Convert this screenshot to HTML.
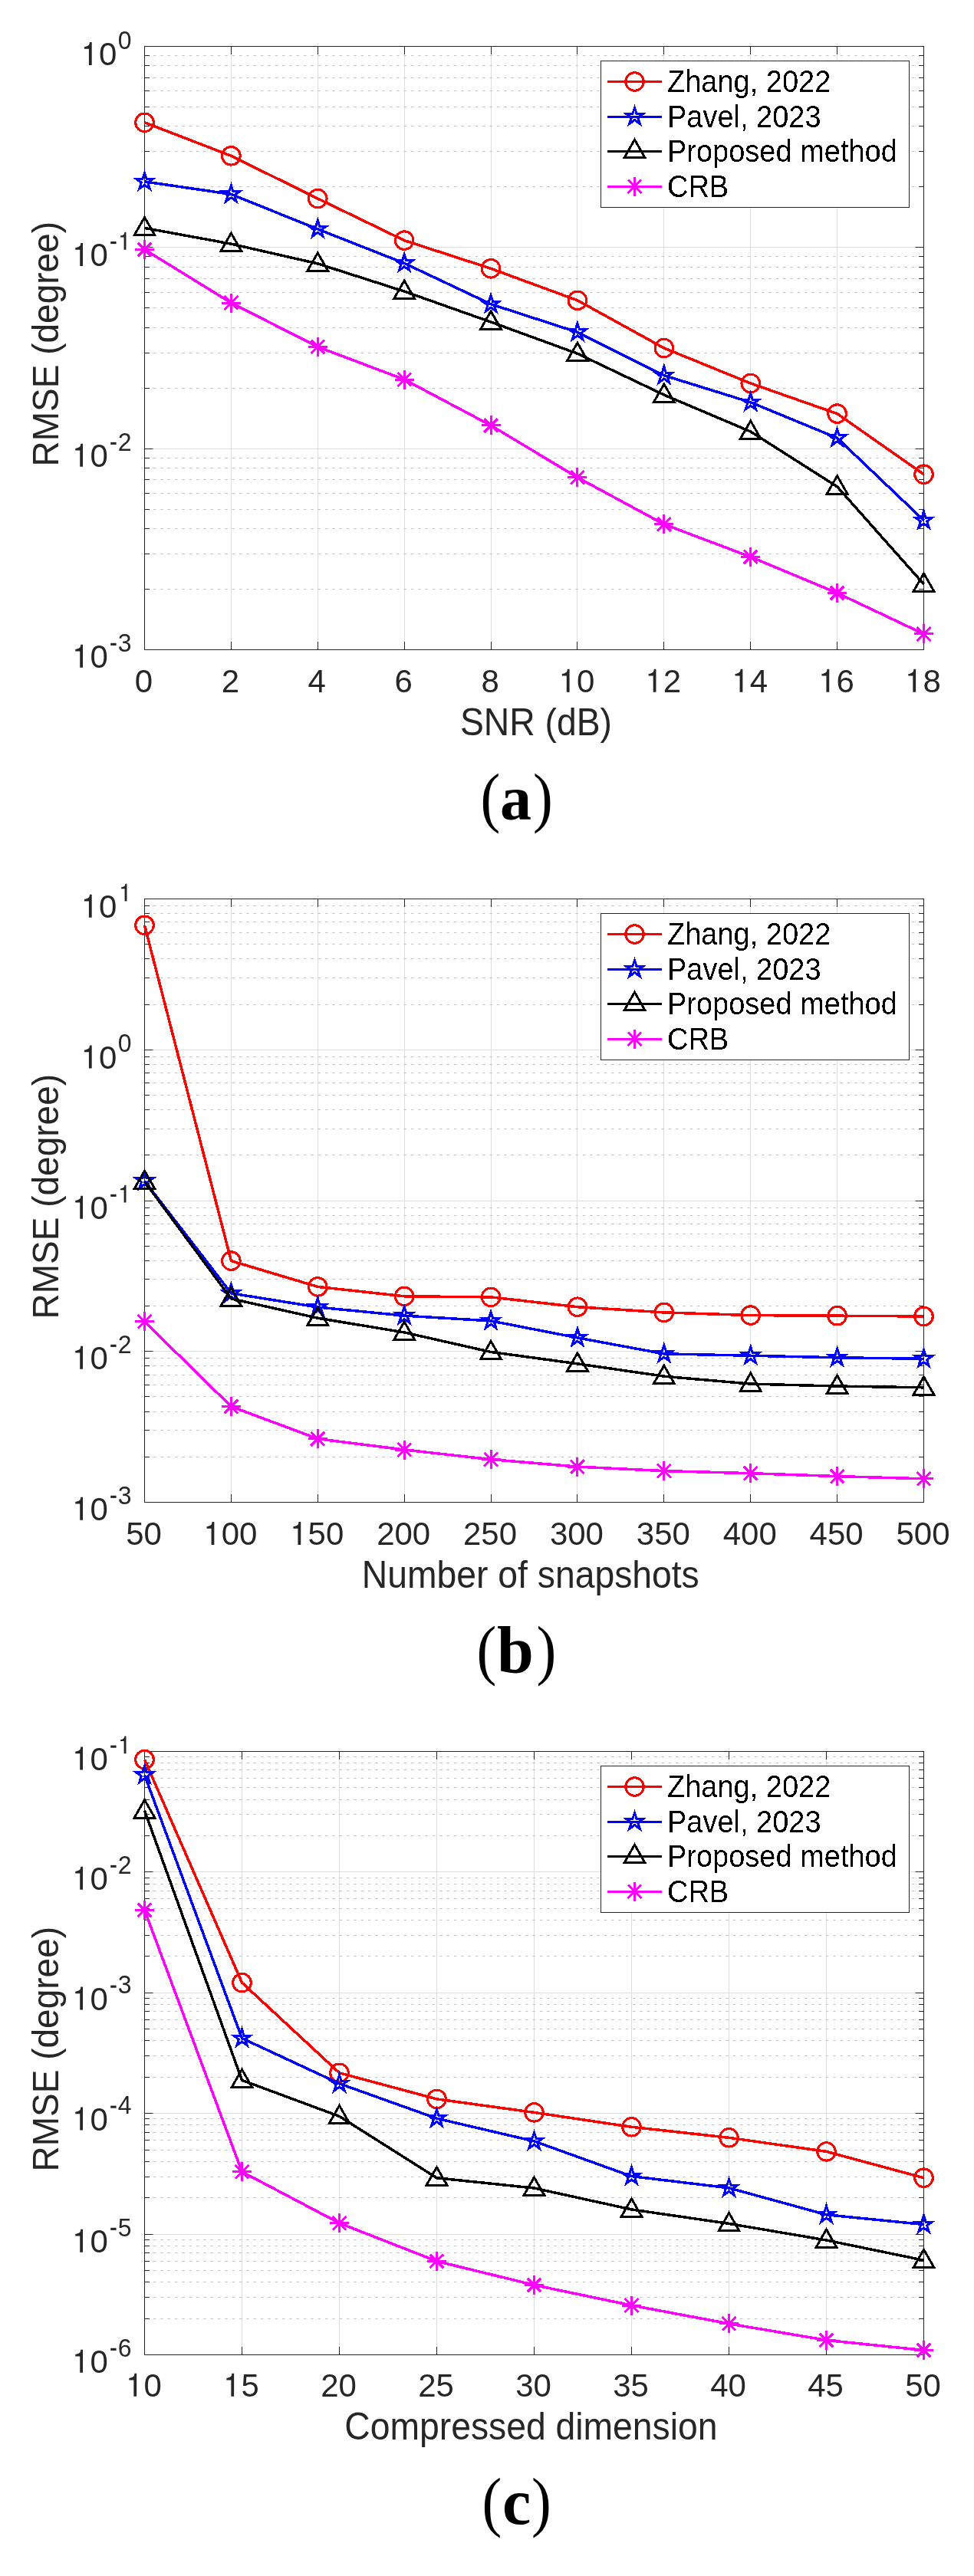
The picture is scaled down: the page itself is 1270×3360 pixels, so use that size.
<!DOCTYPE html><html><head><meta charset="utf-8"><style>html,body{margin:0;padding:0;background:#fff}svg{display:block;will-change:transform}text{font-family:"Liberation Sans",sans-serif}</style></head><body>
<svg width="1270" height="3360" viewBox="0 0 1270 3360">
<style>.d{shape-rendering:crispEdges}</style><defs><filter id="bw" x="0" y="0" width="1" height="1"><feComponentTransfer><feFuncA type="discrete" tableValues="0 1"/></feComponentTransfer></filter></defs>
<rect width="1270" height="3360" fill="#fff"/>
<g>
<line x1="301.5" y1="60.5" x2="301.5" y2="847.5" stroke="#dedede" stroke-width="1"/>
<line x1="414.5" y1="60.5" x2="414.5" y2="847.5" stroke="#dedede" stroke-width="1"/>
<line x1="527.5" y1="60.5" x2="527.5" y2="847.5" stroke="#dedede" stroke-width="1"/>
<line x1="640.5" y1="60.5" x2="640.5" y2="847.5" stroke="#dedede" stroke-width="1"/>
<line x1="752.5" y1="60.5" x2="752.5" y2="847.5" stroke="#dedede" stroke-width="1"/>
<line x1="865.5" y1="60.5" x2="865.5" y2="847.5" stroke="#dedede" stroke-width="1"/>
<line x1="978.5" y1="60.5" x2="978.5" y2="847.5" stroke="#dedede" stroke-width="1"/>
<line x1="1091.5" y1="60.5" x2="1091.5" y2="847.5" stroke="#dedede" stroke-width="1"/>
<line x1="188.5" y1="243.5" x2="1204.5" y2="243.5" stroke="#c2c2c2" stroke-width="1" stroke-dasharray="3.33 6" stroke-dashoffset="-2.17"/>
<line x1="188.5" y1="197.5" x2="1204.5" y2="197.5" stroke="#c2c2c2" stroke-width="1" stroke-dasharray="3.33 6" stroke-dashoffset="-2.17"/>
<line x1="188.5" y1="164.5" x2="1204.5" y2="164.5" stroke="#c2c2c2" stroke-width="1" stroke-dasharray="3.33 6" stroke-dashoffset="-2.17"/>
<line x1="188.5" y1="139.5" x2="1204.5" y2="139.5" stroke="#c2c2c2" stroke-width="1" stroke-dasharray="3.33 6" stroke-dashoffset="-2.17"/>
<line x1="188.5" y1="118.5" x2="1204.5" y2="118.5" stroke="#c2c2c2" stroke-width="1" stroke-dasharray="3.33 6" stroke-dashoffset="-2.17"/>
<line x1="188.5" y1="101.5" x2="1204.5" y2="101.5" stroke="#c2c2c2" stroke-width="1" stroke-dasharray="3.33 6" stroke-dashoffset="-2.17"/>
<line x1="188.5" y1="85.5" x2="1204.5" y2="85.5" stroke="#c2c2c2" stroke-width="1" stroke-dasharray="3.33 6" stroke-dashoffset="-2.17"/>
<line x1="188.5" y1="72.5" x2="1204.5" y2="72.5" stroke="#c2c2c2" stroke-width="1" stroke-dasharray="3.33 6" stroke-dashoffset="-2.17"/>
<line x1="188.5" y1="506.5" x2="1204.5" y2="506.5" stroke="#c2c2c2" stroke-width="1" stroke-dasharray="3.33 6" stroke-dashoffset="-2.17"/>
<line x1="188.5" y1="460.5" x2="1204.5" y2="460.5" stroke="#c2c2c2" stroke-width="1" stroke-dasharray="3.33 6" stroke-dashoffset="-2.17"/>
<line x1="188.5" y1="427.5" x2="1204.5" y2="427.5" stroke="#c2c2c2" stroke-width="1" stroke-dasharray="3.33 6" stroke-dashoffset="-2.17"/>
<line x1="188.5" y1="401.5" x2="1204.5" y2="401.5" stroke="#c2c2c2" stroke-width="1" stroke-dasharray="3.33 6" stroke-dashoffset="-2.17"/>
<line x1="188.5" y1="381.5" x2="1204.5" y2="381.5" stroke="#c2c2c2" stroke-width="1" stroke-dasharray="3.33 6" stroke-dashoffset="-2.17"/>
<line x1="188.5" y1="363.5" x2="1204.5" y2="363.5" stroke="#c2c2c2" stroke-width="1" stroke-dasharray="3.33 6" stroke-dashoffset="-2.17"/>
<line x1="188.5" y1="348.5" x2="1204.5" y2="348.5" stroke="#c2c2c2" stroke-width="1" stroke-dasharray="3.33 6" stroke-dashoffset="-2.17"/>
<line x1="188.5" y1="334.5" x2="1204.5" y2="334.5" stroke="#c2c2c2" stroke-width="1" stroke-dasharray="3.33 6" stroke-dashoffset="-2.17"/>
<line x1="188.5" y1="768.5" x2="1204.5" y2="768.5" stroke="#c2c2c2" stroke-width="1" stroke-dasharray="3.33 6" stroke-dashoffset="-2.17"/>
<line x1="188.5" y1="722.5" x2="1204.5" y2="722.5" stroke="#c2c2c2" stroke-width="1" stroke-dasharray="3.33 6" stroke-dashoffset="-2.17"/>
<line x1="188.5" y1="689.5" x2="1204.5" y2="689.5" stroke="#c2c2c2" stroke-width="1" stroke-dasharray="3.33 6" stroke-dashoffset="-2.17"/>
<line x1="188.5" y1="664.5" x2="1204.5" y2="664.5" stroke="#c2c2c2" stroke-width="1" stroke-dasharray="3.33 6" stroke-dashoffset="-2.17"/>
<line x1="188.5" y1="643.5" x2="1204.5" y2="643.5" stroke="#c2c2c2" stroke-width="1" stroke-dasharray="3.33 6" stroke-dashoffset="-2.17"/>
<line x1="188.5" y1="625.5" x2="1204.5" y2="625.5" stroke="#c2c2c2" stroke-width="1" stroke-dasharray="3.33 6" stroke-dashoffset="-2.17"/>
<line x1="188.5" y1="610.5" x2="1204.5" y2="610.5" stroke="#c2c2c2" stroke-width="1" stroke-dasharray="3.33 6" stroke-dashoffset="-2.17"/>
<line x1="188.5" y1="597.5" x2="1204.5" y2="597.5" stroke="#c2c2c2" stroke-width="1" stroke-dasharray="3.33 6" stroke-dashoffset="-2.17"/>
<line x1="188.5" y1="322.5" x2="1204.5" y2="322.5" stroke="#dedede" stroke-width="1"/>
<line x1="188.5" y1="585.5" x2="1204.5" y2="585.5" stroke="#dedede" stroke-width="1"/>
<path d="M188.5 847.5v-10.5M188.5 60.5v10.5M301.5 847.5v-10.5M301.5 60.5v10.5M414.5 847.5v-10.5M414.5 60.5v10.5M527.5 847.5v-10.5M527.5 60.5v10.5M640.5 847.5v-10.5M640.5 60.5v10.5M752.5 847.5v-10.5M752.5 60.5v10.5M865.5 847.5v-10.5M865.5 60.5v10.5M978.5 847.5v-10.5M978.5 60.5v10.5M1091.5 847.5v-10.5M1091.5 60.5v10.5M1204.5 847.5v-10.5M1204.5 60.5v10.5M188.5 60.5h11M1204.5 60.5h-11M188.5 322.5h11M1204.5 322.5h-11M188.5 585.5h11M1204.5 585.5h-11M188.5 847.5h11M1204.5 847.5h-11M188.5 243.5h6.5M1204.5 243.5h-6.5M188.5 197.5h6.5M1204.5 197.5h-6.5M188.5 164.5h6.5M1204.5 164.5h-6.5M188.5 139.5h6.5M1204.5 139.5h-6.5M188.5 118.5h6.5M1204.5 118.5h-6.5M188.5 101.5h6.5M1204.5 101.5h-6.5M188.5 85.5h6.5M1204.5 85.5h-6.5M188.5 72.5h6.5M1204.5 72.5h-6.5M188.5 506.5h6.5M1204.5 506.5h-6.5M188.5 460.5h6.5M1204.5 460.5h-6.5M188.5 427.5h6.5M1204.5 427.5h-6.5M188.5 401.5h6.5M1204.5 401.5h-6.5M188.5 381.5h6.5M1204.5 381.5h-6.5M188.5 363.5h6.5M1204.5 363.5h-6.5M188.5 348.5h6.5M1204.5 348.5h-6.5M188.5 334.5h6.5M1204.5 334.5h-6.5M188.5 768.5h6.5M1204.5 768.5h-6.5M188.5 722.5h6.5M1204.5 722.5h-6.5M188.5 689.5h6.5M1204.5 689.5h-6.5M188.5 664.5h6.5M1204.5 664.5h-6.5M188.5 643.5h6.5M1204.5 643.5h-6.5M188.5 625.5h6.5M1204.5 625.5h-6.5M188.5 610.5h6.5M1204.5 610.5h-6.5M188.5 597.5h6.5M1204.5 597.5h-6.5" stroke="#262626" stroke-width="1" fill="none"/>
<rect x="188.5" y="60.5" width="1016" height="787" fill="none" stroke="#262626" stroke-width="1"/>
<g class="d">
<polyline points="188.5,159.8 301.39,203.3 414.28,259 527.17,313.6 640.06,350.3 752.94,391.8 865.83,454 978.72,500 1091.61,539.6 1204.5,618.7" fill="none" stroke="#ff0000" stroke-width="3.5" stroke-linejoin="round"/>
<circle cx="188.5" cy="159.8" r="11.8" fill="none" stroke="#ff0000" stroke-width="3"/>
<circle cx="301.39" cy="203.3" r="11.8" fill="none" stroke="#ff0000" stroke-width="3"/>
<circle cx="414.28" cy="259" r="11.8" fill="none" stroke="#ff0000" stroke-width="3"/>
<circle cx="527.17" cy="313.6" r="11.8" fill="none" stroke="#ff0000" stroke-width="3"/>
<circle cx="640.06" cy="350.3" r="11.8" fill="none" stroke="#ff0000" stroke-width="3"/>
<circle cx="752.94" cy="391.8" r="11.8" fill="none" stroke="#ff0000" stroke-width="3"/>
<circle cx="865.83" cy="454" r="11.8" fill="none" stroke="#ff0000" stroke-width="3"/>
<circle cx="978.72" cy="500" r="11.8" fill="none" stroke="#ff0000" stroke-width="3"/>
<circle cx="1091.61" cy="539.6" r="11.8" fill="none" stroke="#ff0000" stroke-width="3"/>
<circle cx="1204.5" cy="618.7" r="11.8" fill="none" stroke="#ff0000" stroke-width="3"/>
<polyline points="188.5,236.85 301.39,253.35 414.28,298.9 527.17,343.35 640.06,396.7 752.94,433.35 865.83,489.7 978.72,524.75 1091.61,571.3 1204.5,678.7" fill="none" stroke="#0000ff" stroke-width="3.5" stroke-linejoin="round"/>
<polygon points="188.5,225.35 191.08,233.3 199.44,233.3 192.68,238.21 195.26,246.15 188.5,241.24 181.74,246.15 184.32,238.21 177.56,233.3 185.92,233.3" fill="none" stroke="#0000ff" stroke-width="3" stroke-linejoin="miter" stroke-miterlimit="10"/>
<polygon points="301.39,241.85 303.97,249.8 312.33,249.8 305.57,254.71 308.15,262.65 301.39,257.74 294.63,262.65 297.21,254.71 290.45,249.8 298.81,249.8" fill="none" stroke="#0000ff" stroke-width="3" stroke-linejoin="miter" stroke-miterlimit="10"/>
<polygon points="414.28,287.4 416.86,295.35 425.21,295.35 418.46,300.26 421.04,308.2 414.28,303.29 407.52,308.2 410.1,300.26 403.34,295.35 411.7,295.35" fill="none" stroke="#0000ff" stroke-width="3" stroke-linejoin="miter" stroke-miterlimit="10"/>
<polygon points="527.17,331.85 529.75,339.8 538.1,339.8 531.34,344.71 533.93,352.65 527.17,347.74 520.41,352.65 522.99,344.71 516.23,339.8 524.58,339.8" fill="none" stroke="#0000ff" stroke-width="3" stroke-linejoin="miter" stroke-miterlimit="10"/>
<polygon points="640.06,385.2 642.64,393.15 650.99,393.15 644.23,398.06 646.82,406 640.06,401.09 633.3,406 635.88,398.06 629.12,393.15 637.47,393.15" fill="none" stroke="#0000ff" stroke-width="3" stroke-linejoin="miter" stroke-miterlimit="10"/>
<polygon points="752.94,421.85 755.53,429.8 763.88,429.8 757.12,434.71 759.7,442.65 752.94,437.74 746.18,442.65 748.77,434.71 742.01,429.8 750.36,429.8" fill="none" stroke="#0000ff" stroke-width="3" stroke-linejoin="miter" stroke-miterlimit="10"/>
<polygon points="865.83,478.2 868.42,486.15 876.77,486.15 870.01,491.06 872.59,499 865.83,494.09 859.07,499 861.66,491.06 854.9,486.15 863.25,486.15" fill="none" stroke="#0000ff" stroke-width="3" stroke-linejoin="miter" stroke-miterlimit="10"/>
<polygon points="978.72,513.25 981.3,521.2 989.66,521.2 982.9,526.11 985.48,534.05 978.72,529.14 971.96,534.05 974.54,526.11 967.79,521.2 976.14,521.2" fill="none" stroke="#0000ff" stroke-width="3" stroke-linejoin="miter" stroke-miterlimit="10"/>
<polygon points="1091.61,559.8 1094.19,567.75 1102.55,567.75 1095.79,572.66 1098.37,580.6 1091.61,575.69 1084.85,580.6 1087.43,572.66 1080.67,567.75 1089.03,567.75" fill="none" stroke="#0000ff" stroke-width="3" stroke-linejoin="miter" stroke-miterlimit="10"/>
<polygon points="1204.5,667.2 1207.08,675.15 1215.44,675.15 1208.68,680.06 1211.26,688 1204.5,683.09 1197.74,688 1200.32,680.06 1193.56,675.15 1201.92,675.15" fill="none" stroke="#0000ff" stroke-width="3" stroke-linejoin="miter" stroke-miterlimit="10"/>
<polyline points="188.5,297.4 301.39,318.1 414.28,343.9 527.17,380.1 640.06,420 752.94,461.2 865.83,515.05 978.72,562.95 1091.61,634.8 1204.5,761.95" fill="none" stroke="#000000" stroke-width="3.5" stroke-linejoin="round"/>
<polygon points="188.5,283.4 201.9,306.8 175.1,306.8" fill="none" stroke="#000000" stroke-width="3" stroke-linejoin="miter" stroke-miterlimit="10"/>
<polygon points="301.39,304.1 314.79,327.5 287.99,327.5" fill="none" stroke="#000000" stroke-width="3" stroke-linejoin="miter" stroke-miterlimit="10"/>
<polygon points="414.28,329.9 427.68,353.3 400.88,353.3" fill="none" stroke="#000000" stroke-width="3" stroke-linejoin="miter" stroke-miterlimit="10"/>
<polygon points="527.17,366.1 540.57,389.5 513.77,389.5" fill="none" stroke="#000000" stroke-width="3" stroke-linejoin="miter" stroke-miterlimit="10"/>
<polygon points="640.06,406 653.46,429.4 626.66,429.4" fill="none" stroke="#000000" stroke-width="3" stroke-linejoin="miter" stroke-miterlimit="10"/>
<polygon points="752.94,447.2 766.34,470.6 739.54,470.6" fill="none" stroke="#000000" stroke-width="3" stroke-linejoin="miter" stroke-miterlimit="10"/>
<polygon points="865.83,501.05 879.23,524.45 852.43,524.45" fill="none" stroke="#000000" stroke-width="3" stroke-linejoin="miter" stroke-miterlimit="10"/>
<polygon points="978.72,548.95 992.12,572.35 965.32,572.35" fill="none" stroke="#000000" stroke-width="3" stroke-linejoin="miter" stroke-miterlimit="10"/>
<polygon points="1091.61,620.8 1105.01,644.2 1078.21,644.2" fill="none" stroke="#000000" stroke-width="3" stroke-linejoin="miter" stroke-miterlimit="10"/>
<polygon points="1204.5,747.95 1217.9,771.35 1191.1,771.35" fill="none" stroke="#000000" stroke-width="3" stroke-linejoin="miter" stroke-miterlimit="10"/>
<polyline points="188.5,325.5 301.39,395 414.28,452.4 527.17,495 640.06,554.9 752.94,622.8 865.83,683.8 978.72,726.4 1091.61,773.5 1204.5,826.95" fill="none" stroke="#ff00ff" stroke-width="3.5" stroke-linejoin="round"/>
<path d="M188.5 313V338M176 325.5H201M179.7 316.7L197.3 334.3M179.7 334.3L197.3 316.7" stroke="#ff00ff" stroke-width="3" fill="none"/>
<path d="M301.39 382.5V407.5M288.89 395H313.89M292.59 386.2L310.19 403.8M292.59 403.8L310.19 386.2" stroke="#ff00ff" stroke-width="3" fill="none"/>
<path d="M414.28 439.9V464.9M401.78 452.4H426.78M405.48 443.6L423.08 461.2M405.48 461.2L423.08 443.6" stroke="#ff00ff" stroke-width="3" fill="none"/>
<path d="M527.17 482.5V507.5M514.67 495H539.67M518.37 486.2L535.97 503.8M518.37 503.8L535.97 486.2" stroke="#ff00ff" stroke-width="3" fill="none"/>
<path d="M640.06 542.4V567.4M627.56 554.9H652.56M631.26 546.1L648.86 563.7M631.26 563.7L648.86 546.1" stroke="#ff00ff" stroke-width="3" fill="none"/>
<path d="M752.94 610.3V635.3M740.44 622.8H765.44M744.14 614L761.74 631.6M744.14 631.6L761.74 614" stroke="#ff00ff" stroke-width="3" fill="none"/>
<path d="M865.83 671.3V696.3M853.33 683.8H878.33M857.03 675L874.63 692.6M857.03 692.6L874.63 675" stroke="#ff00ff" stroke-width="3" fill="none"/>
<path d="M978.72 713.9V738.9M966.22 726.4H991.22M969.92 717.6L987.52 735.2M969.92 735.2L987.52 717.6" stroke="#ff00ff" stroke-width="3" fill="none"/>
<path d="M1091.61 761V786M1079.11 773.5H1104.11M1082.81 764.7L1100.41 782.3M1082.81 782.3L1100.41 764.7" stroke="#ff00ff" stroke-width="3" fill="none"/>
<path d="M1204.5 814.45V839.45M1192 826.95H1217M1195.7 818.15L1213.3 835.75M1195.7 835.75L1213.3 818.15" stroke="#ff00ff" stroke-width="3" fill="none"/>
</g>
<rect x="783.5" y="79.5" width="402" height="191" fill="#fff" stroke="#262626" stroke-width="1"/>
<g class="d">
<line x1="792" y1="106.5" x2="863" y2="106.5" stroke="#ff0000" stroke-width="3"/>
<circle cx="827.5" cy="106.5" r="11.8" fill="none" stroke="#ff0000" stroke-width="3"/>
<line x1="792" y1="152.1" x2="863" y2="152.1" stroke="#0000ff" stroke-width="3"/>
<polygon points="827.5,140.6 830.08,148.55 838.44,148.55 831.68,153.46 834.26,161.4 827.5,156.49 820.74,161.4 823.32,153.46 816.56,148.55 824.92,148.55" fill="none" stroke="#0000ff" stroke-width="3" stroke-linejoin="miter" stroke-miterlimit="10"/>
<line x1="792" y1="197.7" x2="863" y2="197.7" stroke="#000000" stroke-width="3"/>
<polygon points="827.5,182.2 840.9,205.6 814.1,205.6" fill="none" stroke="#000000" stroke-width="3" stroke-linejoin="miter" stroke-miterlimit="10"/>
<line x1="792" y1="243.3" x2="863" y2="243.3" stroke="#ff00ff" stroke-width="3"/>
<path d="M827.5 230.8V255.8M815 243.3H840M818.7 234.5L836.3 252.1M818.7 252.1L836.3 234.5" stroke="#ff00ff" stroke-width="3" fill="none"/>
</g><g filter="url(#bw)">
<text transform="translate(870,120.1) scale(1,1.06)" font-size="38" fill="#000">Zhang, 2022</text>
<text transform="translate(870,165.7) scale(1,1.06)" font-size="38" fill="#000">Pavel, 2023</text>
<text transform="translate(870,211.3) scale(1,1.06)" font-size="38" fill="#000">Proposed method</text>
<text transform="translate(870,256.9) scale(1,1.06)" font-size="38" fill="#000">CRB</text>
</g>
<text transform="translate(175.82,902.8) scale(1,1.025)" font-size="42" fill="#262626">0</text>
<text transform="translate(288.71,902.8) scale(1,1.025)" font-size="42" fill="#262626">2</text>
<text transform="translate(401.6,902.8) scale(1,1.025)" font-size="42" fill="#262626">4</text>
<text transform="translate(514.49,902.8) scale(1,1.025)" font-size="42" fill="#262626">6</text>
<text transform="translate(627.38,902.8) scale(1,1.025)" font-size="42" fill="#262626">8</text>
<path transform="translate(728.59,902.8) scale(0.02051,-0.02051)" d="M498 0L682 0L682 1463L547 1463Q545 1330 500 1280Q420 1205 300 1178L205 1158L205 1036L498 1036Z" fill="#262626"/>
<text transform="translate(751.94,902.8) scale(1,1.025)" font-size="42" fill="#262626">0</text>
<path transform="translate(841.47,902.8) scale(0.02051,-0.02051)" d="M498 0L682 0L682 1463L547 1463Q545 1330 500 1280Q420 1205 300 1178L205 1158L205 1036L498 1036Z" fill="#262626"/>
<text transform="translate(864.83,902.8) scale(1,1.025)" font-size="42" fill="#262626">2</text>
<path transform="translate(954.36,902.8) scale(0.02051,-0.02051)" d="M498 0L682 0L682 1463L547 1463Q545 1330 500 1280Q420 1205 300 1178L205 1158L205 1036L498 1036Z" fill="#262626"/>
<text transform="translate(977.72,902.8) scale(1,1.025)" font-size="42" fill="#262626">4</text>
<path transform="translate(1067.25,902.8) scale(0.02051,-0.02051)" d="M498 0L682 0L682 1463L547 1463Q545 1330 500 1280Q420 1205 300 1178L205 1158L205 1036L498 1036Z" fill="#262626"/>
<text transform="translate(1090.61,902.8) scale(1,1.025)" font-size="42" fill="#262626">6</text>
<path transform="translate(1180.14,902.8) scale(0.02051,-0.02051)" d="M498 0L682 0L682 1463L547 1463Q545 1330 500 1280Q420 1205 300 1178L205 1158L205 1036L498 1036Z" fill="#262626"/>
<text transform="translate(1203.5,902.8) scale(1,1.025)" font-size="42" fill="#262626">8</text>
<text transform="translate(153.8,63.7) scale(1,1.025)" font-size="32" fill="#262626">0</text>
<path transform="translate(105.69,84.9) scale(0.02051,-0.02051)" d="M498 0L682 0L682 1463L547 1463Q545 1330 500 1280Q420 1205 300 1178L205 1158L205 1036L498 1036Z" fill="#262626"/>
<text transform="translate(129.04,84.9) scale(1,1.025)" font-size="42" fill="#262626">0</text>
<rect x="144.2" y="315.01" width="7.39" height="3.1" fill="#262626"/>
<path transform="translate(153.8,325.7) scale(0.01562,-0.01562)" d="M498 0L682 0L682 1463L547 1463Q545 1330 500 1280Q420 1205 300 1178L205 1158L205 1036L498 1036Z" fill="#262626"/>
<path transform="translate(94.03,346.9) scale(0.02051,-0.02051)" d="M498 0L682 0L682 1463L547 1463Q545 1330 500 1280Q420 1205 300 1178L205 1158L205 1036L498 1036Z" fill="#262626"/>
<text transform="translate(117.39,346.9) scale(1,1.025)" font-size="42" fill="#262626">0</text>
<rect x="144.2" y="576.81" width="7.39" height="3.1" fill="#262626"/>
<text transform="translate(153.8,587.5) scale(1,1.025)" font-size="32" fill="#262626">2</text>
<path transform="translate(94.03,608.7) scale(0.02051,-0.02051)" d="M498 0L682 0L682 1463L547 1463Q545 1330 500 1280Q420 1205 300 1178L205 1158L205 1036L498 1036Z" fill="#262626"/>
<text transform="translate(117.39,608.7) scale(1,1.025)" font-size="42" fill="#262626">0</text>
<rect x="144.2" y="838.81" width="7.39" height="3.1" fill="#262626"/>
<text transform="translate(153.8,849.5) scale(1,1.025)" font-size="32" fill="#262626">3</text>
<path transform="translate(94.03,870.7) scale(0.02051,-0.02051)" d="M498 0L682 0L682 1463L547 1463Q545 1330 500 1280Q420 1205 300 1178L205 1158L205 1036L498 1036Z" fill="#262626"/>
<text transform="translate(117.39,870.7) scale(1,1.025)" font-size="42" fill="#262626">0</text>
<text transform="translate(698.95,958.9) scale(1,1.06)" font-size="46.3" fill="#262626" text-anchor="middle">SNR (dB)</text>
<text transform="translate(76,448.7) rotate(-90) scale(1,1.06)" font-size="46" fill="#262626" text-anchor="middle">RMSE (degree)</text>
<g font-size="86" fill="#000"><text transform="translate(626.6,1068.7) scale(0.9,1)" style="font-family:'Liberation Serif',serif">(</text><text x="652.06" y="1068.7" font-weight="bold" font-size="82" style="font-family:'Liberation Serif',serif">a</text><text transform="translate(694.9,1068.7) scale(0.9,1)" style="font-family:'Liberation Serif',serif">)</text></g>
</g>
<g>
<line x1="301.5" y1="1172.5" x2="301.5" y2="1959.5" stroke="#dedede" stroke-width="1"/>
<line x1="414.5" y1="1172.5" x2="414.5" y2="1959.5" stroke="#dedede" stroke-width="1"/>
<line x1="527.5" y1="1172.5" x2="527.5" y2="1959.5" stroke="#dedede" stroke-width="1"/>
<line x1="640.5" y1="1172.5" x2="640.5" y2="1959.5" stroke="#dedede" stroke-width="1"/>
<line x1="752.5" y1="1172.5" x2="752.5" y2="1959.5" stroke="#dedede" stroke-width="1"/>
<line x1="865.5" y1="1172.5" x2="865.5" y2="1959.5" stroke="#dedede" stroke-width="1"/>
<line x1="978.5" y1="1172.5" x2="978.5" y2="1959.5" stroke="#dedede" stroke-width="1"/>
<line x1="1091.5" y1="1172.5" x2="1091.5" y2="1959.5" stroke="#dedede" stroke-width="1"/>
<line x1="188.5" y1="1310.5" x2="1204.5" y2="1310.5" stroke="#c2c2c2" stroke-width="1" stroke-dasharray="3.33 6" stroke-dashoffset="-2.17"/>
<line x1="188.5" y1="1275.5" x2="1204.5" y2="1275.5" stroke="#c2c2c2" stroke-width="1" stroke-dasharray="3.33 6" stroke-dashoffset="-2.17"/>
<line x1="188.5" y1="1250.5" x2="1204.5" y2="1250.5" stroke="#c2c2c2" stroke-width="1" stroke-dasharray="3.33 6" stroke-dashoffset="-2.17"/>
<line x1="188.5" y1="1231.5" x2="1204.5" y2="1231.5" stroke="#c2c2c2" stroke-width="1" stroke-dasharray="3.33 6" stroke-dashoffset="-2.17"/>
<line x1="188.5" y1="1216.5" x2="1204.5" y2="1216.5" stroke="#c2c2c2" stroke-width="1" stroke-dasharray="3.33 6" stroke-dashoffset="-2.17"/>
<line x1="188.5" y1="1202.5" x2="1204.5" y2="1202.5" stroke="#c2c2c2" stroke-width="1" stroke-dasharray="3.33 6" stroke-dashoffset="-2.17"/>
<line x1="188.5" y1="1191.5" x2="1204.5" y2="1191.5" stroke="#c2c2c2" stroke-width="1" stroke-dasharray="3.33 6" stroke-dashoffset="-2.17"/>
<line x1="188.5" y1="1181.5" x2="1204.5" y2="1181.5" stroke="#c2c2c2" stroke-width="1" stroke-dasharray="3.33 6" stroke-dashoffset="-2.17"/>
<line x1="188.5" y1="1506.5" x2="1204.5" y2="1506.5" stroke="#c2c2c2" stroke-width="1" stroke-dasharray="3.33 6" stroke-dashoffset="-2.17"/>
<line x1="188.5" y1="1472.5" x2="1204.5" y2="1472.5" stroke="#c2c2c2" stroke-width="1" stroke-dasharray="3.33 6" stroke-dashoffset="-2.17"/>
<line x1="188.5" y1="1447.5" x2="1204.5" y2="1447.5" stroke="#c2c2c2" stroke-width="1" stroke-dasharray="3.33 6" stroke-dashoffset="-2.17"/>
<line x1="188.5" y1="1428.5" x2="1204.5" y2="1428.5" stroke="#c2c2c2" stroke-width="1" stroke-dasharray="3.33 6" stroke-dashoffset="-2.17"/>
<line x1="188.5" y1="1412.5" x2="1204.5" y2="1412.5" stroke="#c2c2c2" stroke-width="1" stroke-dasharray="3.33 6" stroke-dashoffset="-2.17"/>
<line x1="188.5" y1="1399.5" x2="1204.5" y2="1399.5" stroke="#c2c2c2" stroke-width="1" stroke-dasharray="3.33 6" stroke-dashoffset="-2.17"/>
<line x1="188.5" y1="1388.5" x2="1204.5" y2="1388.5" stroke="#c2c2c2" stroke-width="1" stroke-dasharray="3.33 6" stroke-dashoffset="-2.17"/>
<line x1="188.5" y1="1378.5" x2="1204.5" y2="1378.5" stroke="#c2c2c2" stroke-width="1" stroke-dasharray="3.33 6" stroke-dashoffset="-2.17"/>
<line x1="188.5" y1="1703.5" x2="1204.5" y2="1703.5" stroke="#c2c2c2" stroke-width="1" stroke-dasharray="3.33 6" stroke-dashoffset="-2.17"/>
<line x1="188.5" y1="1668.5" x2="1204.5" y2="1668.5" stroke="#c2c2c2" stroke-width="1" stroke-dasharray="3.33 6" stroke-dashoffset="-2.17"/>
<line x1="188.5" y1="1644.5" x2="1204.5" y2="1644.5" stroke="#c2c2c2" stroke-width="1" stroke-dasharray="3.33 6" stroke-dashoffset="-2.17"/>
<line x1="188.5" y1="1625.5" x2="1204.5" y2="1625.5" stroke="#c2c2c2" stroke-width="1" stroke-dasharray="3.33 6" stroke-dashoffset="-2.17"/>
<line x1="188.5" y1="1609.5" x2="1204.5" y2="1609.5" stroke="#c2c2c2" stroke-width="1" stroke-dasharray="3.33 6" stroke-dashoffset="-2.17"/>
<line x1="188.5" y1="1596.5" x2="1204.5" y2="1596.5" stroke="#c2c2c2" stroke-width="1" stroke-dasharray="3.33 6" stroke-dashoffset="-2.17"/>
<line x1="188.5" y1="1585.5" x2="1204.5" y2="1585.5" stroke="#c2c2c2" stroke-width="1" stroke-dasharray="3.33 6" stroke-dashoffset="-2.17"/>
<line x1="188.5" y1="1575.5" x2="1204.5" y2="1575.5" stroke="#c2c2c2" stroke-width="1" stroke-dasharray="3.33 6" stroke-dashoffset="-2.17"/>
<line x1="188.5" y1="1900.5" x2="1204.5" y2="1900.5" stroke="#c2c2c2" stroke-width="1" stroke-dasharray="3.33 6" stroke-dashoffset="-2.17"/>
<line x1="188.5" y1="1865.5" x2="1204.5" y2="1865.5" stroke="#c2c2c2" stroke-width="1" stroke-dasharray="3.33 6" stroke-dashoffset="-2.17"/>
<line x1="188.5" y1="1841.5" x2="1204.5" y2="1841.5" stroke="#c2c2c2" stroke-width="1" stroke-dasharray="3.33 6" stroke-dashoffset="-2.17"/>
<line x1="188.5" y1="1821.5" x2="1204.5" y2="1821.5" stroke="#c2c2c2" stroke-width="1" stroke-dasharray="3.33 6" stroke-dashoffset="-2.17"/>
<line x1="188.5" y1="1806.5" x2="1204.5" y2="1806.5" stroke="#c2c2c2" stroke-width="1" stroke-dasharray="3.33 6" stroke-dashoffset="-2.17"/>
<line x1="188.5" y1="1793.5" x2="1204.5" y2="1793.5" stroke="#c2c2c2" stroke-width="1" stroke-dasharray="3.33 6" stroke-dashoffset="-2.17"/>
<line x1="188.5" y1="1781.5" x2="1204.5" y2="1781.5" stroke="#c2c2c2" stroke-width="1" stroke-dasharray="3.33 6" stroke-dashoffset="-2.17"/>
<line x1="188.5" y1="1771.5" x2="1204.5" y2="1771.5" stroke="#c2c2c2" stroke-width="1" stroke-dasharray="3.33 6" stroke-dashoffset="-2.17"/>
<line x1="188.5" y1="1369.5" x2="1204.5" y2="1369.5" stroke="#dedede" stroke-width="1"/>
<line x1="188.5" y1="1566.5" x2="1204.5" y2="1566.5" stroke="#dedede" stroke-width="1"/>
<line x1="188.5" y1="1762.5" x2="1204.5" y2="1762.5" stroke="#dedede" stroke-width="1"/>
<path d="M188.5 1959.5v-10.5M188.5 1172.5v10.5M301.5 1959.5v-10.5M301.5 1172.5v10.5M414.5 1959.5v-10.5M414.5 1172.5v10.5M527.5 1959.5v-10.5M527.5 1172.5v10.5M640.5 1959.5v-10.5M640.5 1172.5v10.5M752.5 1959.5v-10.5M752.5 1172.5v10.5M865.5 1959.5v-10.5M865.5 1172.5v10.5M978.5 1959.5v-10.5M978.5 1172.5v10.5M1091.5 1959.5v-10.5M1091.5 1172.5v10.5M1204.5 1959.5v-10.5M1204.5 1172.5v10.5M188.5 1172.5h11M1204.5 1172.5h-11M188.5 1369.5h11M1204.5 1369.5h-11M188.5 1566.5h11M1204.5 1566.5h-11M188.5 1762.5h11M1204.5 1762.5h-11M188.5 1959.5h11M1204.5 1959.5h-11M188.5 1310.5h6.5M1204.5 1310.5h-6.5M188.5 1275.5h6.5M1204.5 1275.5h-6.5M188.5 1250.5h6.5M1204.5 1250.5h-6.5M188.5 1231.5h6.5M1204.5 1231.5h-6.5M188.5 1216.5h6.5M1204.5 1216.5h-6.5M188.5 1202.5h6.5M1204.5 1202.5h-6.5M188.5 1191.5h6.5M1204.5 1191.5h-6.5M188.5 1181.5h6.5M1204.5 1181.5h-6.5M188.5 1506.5h6.5M1204.5 1506.5h-6.5M188.5 1472.5h6.5M1204.5 1472.5h-6.5M188.5 1447.5h6.5M1204.5 1447.5h-6.5M188.5 1428.5h6.5M1204.5 1428.5h-6.5M188.5 1412.5h6.5M1204.5 1412.5h-6.5M188.5 1399.5h6.5M1204.5 1399.5h-6.5M188.5 1388.5h6.5M1204.5 1388.5h-6.5M188.5 1378.5h6.5M1204.5 1378.5h-6.5M188.5 1703.5h6.5M1204.5 1703.5h-6.5M188.5 1668.5h6.5M1204.5 1668.5h-6.5M188.5 1644.5h6.5M1204.5 1644.5h-6.5M188.5 1625.5h6.5M1204.5 1625.5h-6.5M188.5 1609.5h6.5M1204.5 1609.5h-6.5M188.5 1596.5h6.5M1204.5 1596.5h-6.5M188.5 1585.5h6.5M1204.5 1585.5h-6.5M188.5 1575.5h6.5M1204.5 1575.5h-6.5M188.5 1900.5h6.5M1204.5 1900.5h-6.5M188.5 1865.5h6.5M1204.5 1865.5h-6.5M188.5 1841.5h6.5M1204.5 1841.5h-6.5M188.5 1821.5h6.5M1204.5 1821.5h-6.5M188.5 1806.5h6.5M1204.5 1806.5h-6.5M188.5 1793.5h6.5M1204.5 1793.5h-6.5M188.5 1781.5h6.5M1204.5 1781.5h-6.5M188.5 1771.5h6.5M1204.5 1771.5h-6.5" stroke="#262626" stroke-width="1" fill="none"/>
<rect x="188.5" y="1172.5" width="1016" height="787" fill="none" stroke="#262626" stroke-width="1"/>
<g class="d">
<polyline points="188.5,1206.8 301.39,1644.6 414.28,1678.4 527.17,1690.8 640.06,1691.9 752.94,1704.7 865.83,1711.9 978.72,1715.6 1091.61,1716.2 1204.5,1717" fill="none" stroke="#ff0000" stroke-width="3.5" stroke-linejoin="round"/>
<circle cx="188.5" cy="1206.8" r="11.8" fill="none" stroke="#ff0000" stroke-width="3"/>
<circle cx="301.39" cy="1644.6" r="11.8" fill="none" stroke="#ff0000" stroke-width="3"/>
<circle cx="414.28" cy="1678.4" r="11.8" fill="none" stroke="#ff0000" stroke-width="3"/>
<circle cx="527.17" cy="1690.8" r="11.8" fill="none" stroke="#ff0000" stroke-width="3"/>
<circle cx="640.06" cy="1691.9" r="11.8" fill="none" stroke="#ff0000" stroke-width="3"/>
<circle cx="752.94" cy="1704.7" r="11.8" fill="none" stroke="#ff0000" stroke-width="3"/>
<circle cx="865.83" cy="1711.9" r="11.8" fill="none" stroke="#ff0000" stroke-width="3"/>
<circle cx="978.72" cy="1715.6" r="11.8" fill="none" stroke="#ff0000" stroke-width="3"/>
<circle cx="1091.61" cy="1716.2" r="11.8" fill="none" stroke="#ff0000" stroke-width="3"/>
<circle cx="1204.5" cy="1717" r="11.8" fill="none" stroke="#ff0000" stroke-width="3"/>
<polyline points="188.5,1540.5 301.39,1686.9 414.28,1705 527.17,1716.1 640.06,1722.9 752.94,1744.9 865.83,1765.85 978.72,1768.25 1091.61,1770.8 1204.5,1772.3" fill="none" stroke="#0000ff" stroke-width="3.5" stroke-linejoin="round"/>
<polygon points="188.5,1529 191.08,1536.95 199.44,1536.95 192.68,1541.86 195.26,1549.8 188.5,1544.89 181.74,1549.8 184.32,1541.86 177.56,1536.95 185.92,1536.95" fill="none" stroke="#0000ff" stroke-width="3" stroke-linejoin="miter" stroke-miterlimit="10"/>
<polygon points="301.39,1675.4 303.97,1683.35 312.33,1683.35 305.57,1688.26 308.15,1696.2 301.39,1691.29 294.63,1696.2 297.21,1688.26 290.45,1683.35 298.81,1683.35" fill="none" stroke="#0000ff" stroke-width="3" stroke-linejoin="miter" stroke-miterlimit="10"/>
<polygon points="414.28,1693.5 416.86,1701.45 425.21,1701.45 418.46,1706.36 421.04,1714.3 414.28,1709.39 407.52,1714.3 410.1,1706.36 403.34,1701.45 411.7,1701.45" fill="none" stroke="#0000ff" stroke-width="3" stroke-linejoin="miter" stroke-miterlimit="10"/>
<polygon points="527.17,1704.6 529.75,1712.55 538.1,1712.55 531.34,1717.46 533.93,1725.4 527.17,1720.49 520.41,1725.4 522.99,1717.46 516.23,1712.55 524.58,1712.55" fill="none" stroke="#0000ff" stroke-width="3" stroke-linejoin="miter" stroke-miterlimit="10"/>
<polygon points="640.06,1711.4 642.64,1719.35 650.99,1719.35 644.23,1724.26 646.82,1732.2 640.06,1727.29 633.3,1732.2 635.88,1724.26 629.12,1719.35 637.47,1719.35" fill="none" stroke="#0000ff" stroke-width="3" stroke-linejoin="miter" stroke-miterlimit="10"/>
<polygon points="752.94,1733.4 755.53,1741.35 763.88,1741.35 757.12,1746.26 759.7,1754.2 752.94,1749.29 746.18,1754.2 748.77,1746.26 742.01,1741.35 750.36,1741.35" fill="none" stroke="#0000ff" stroke-width="3" stroke-linejoin="miter" stroke-miterlimit="10"/>
<polygon points="865.83,1754.35 868.42,1762.3 876.77,1762.3 870.01,1767.21 872.59,1775.15 865.83,1770.24 859.07,1775.15 861.66,1767.21 854.9,1762.3 863.25,1762.3" fill="none" stroke="#0000ff" stroke-width="3" stroke-linejoin="miter" stroke-miterlimit="10"/>
<polygon points="978.72,1756.75 981.3,1764.7 989.66,1764.7 982.9,1769.61 985.48,1777.55 978.72,1772.64 971.96,1777.55 974.54,1769.61 967.79,1764.7 976.14,1764.7" fill="none" stroke="#0000ff" stroke-width="3" stroke-linejoin="miter" stroke-miterlimit="10"/>
<polygon points="1091.61,1759.3 1094.19,1767.25 1102.55,1767.25 1095.79,1772.16 1098.37,1780.1 1091.61,1775.19 1084.85,1780.1 1087.43,1772.16 1080.67,1767.25 1089.03,1767.25" fill="none" stroke="#0000ff" stroke-width="3" stroke-linejoin="miter" stroke-miterlimit="10"/>
<polygon points="1204.5,1760.8 1207.08,1768.75 1215.44,1768.75 1208.68,1773.66 1211.26,1781.6 1204.5,1776.69 1197.74,1781.6 1200.32,1773.66 1193.56,1768.75 1201.92,1768.75" fill="none" stroke="#0000ff" stroke-width="3" stroke-linejoin="miter" stroke-miterlimit="10"/>
<polyline points="188.5,1541.25 301.39,1693.9 414.28,1719.25 527.17,1737.95 640.06,1763.45 752.94,1778.8 865.83,1795.2 978.72,1805.1 1091.61,1808.05 1204.5,1809.8" fill="none" stroke="#000000" stroke-width="3.5" stroke-linejoin="round"/>
<polygon points="188.5,1527.25 201.9,1550.65 175.1,1550.65" fill="none" stroke="#000000" stroke-width="3" stroke-linejoin="miter" stroke-miterlimit="10"/>
<polygon points="301.39,1679.9 314.79,1703.3 287.99,1703.3" fill="none" stroke="#000000" stroke-width="3" stroke-linejoin="miter" stroke-miterlimit="10"/>
<polygon points="414.28,1705.25 427.68,1728.65 400.88,1728.65" fill="none" stroke="#000000" stroke-width="3" stroke-linejoin="miter" stroke-miterlimit="10"/>
<polygon points="527.17,1723.95 540.57,1747.35 513.77,1747.35" fill="none" stroke="#000000" stroke-width="3" stroke-linejoin="miter" stroke-miterlimit="10"/>
<polygon points="640.06,1749.45 653.46,1772.85 626.66,1772.85" fill="none" stroke="#000000" stroke-width="3" stroke-linejoin="miter" stroke-miterlimit="10"/>
<polygon points="752.94,1764.8 766.34,1788.2 739.54,1788.2" fill="none" stroke="#000000" stroke-width="3" stroke-linejoin="miter" stroke-miterlimit="10"/>
<polygon points="865.83,1781.2 879.23,1804.6 852.43,1804.6" fill="none" stroke="#000000" stroke-width="3" stroke-linejoin="miter" stroke-miterlimit="10"/>
<polygon points="978.72,1791.1 992.12,1814.5 965.32,1814.5" fill="none" stroke="#000000" stroke-width="3" stroke-linejoin="miter" stroke-miterlimit="10"/>
<polygon points="1091.61,1794.05 1105.01,1817.45 1078.21,1817.45" fill="none" stroke="#000000" stroke-width="3" stroke-linejoin="miter" stroke-miterlimit="10"/>
<polygon points="1204.5,1795.8 1217.9,1819.2 1191.1,1819.2" fill="none" stroke="#000000" stroke-width="3" stroke-linejoin="miter" stroke-miterlimit="10"/>
<polyline points="188.5,1723.8 301.39,1834.55 414.28,1876.7 527.17,1891 640.06,1903.6 752.94,1913.1 865.83,1918.6 978.72,1921.7 1091.61,1925.6 1204.5,1928.8" fill="none" stroke="#ff00ff" stroke-width="3.5" stroke-linejoin="round"/>
<path d="M188.5 1711.3V1736.3M176 1723.8H201M179.7 1715L197.3 1732.6M179.7 1732.6L197.3 1715" stroke="#ff00ff" stroke-width="3" fill="none"/>
<path d="M301.39 1822.05V1847.05M288.89 1834.55H313.89M292.59 1825.75L310.19 1843.35M292.59 1843.35L310.19 1825.75" stroke="#ff00ff" stroke-width="3" fill="none"/>
<path d="M414.28 1864.2V1889.2M401.78 1876.7H426.78M405.48 1867.9L423.08 1885.5M405.48 1885.5L423.08 1867.9" stroke="#ff00ff" stroke-width="3" fill="none"/>
<path d="M527.17 1878.5V1903.5M514.67 1891H539.67M518.37 1882.2L535.97 1899.8M518.37 1899.8L535.97 1882.2" stroke="#ff00ff" stroke-width="3" fill="none"/>
<path d="M640.06 1891.1V1916.1M627.56 1903.6H652.56M631.26 1894.8L648.86 1912.4M631.26 1912.4L648.86 1894.8" stroke="#ff00ff" stroke-width="3" fill="none"/>
<path d="M752.94 1900.6V1925.6M740.44 1913.1H765.44M744.14 1904.3L761.74 1921.9M744.14 1921.9L761.74 1904.3" stroke="#ff00ff" stroke-width="3" fill="none"/>
<path d="M865.83 1906.1V1931.1M853.33 1918.6H878.33M857.03 1909.8L874.63 1927.4M857.03 1927.4L874.63 1909.8" stroke="#ff00ff" stroke-width="3" fill="none"/>
<path d="M978.72 1909.2V1934.2M966.22 1921.7H991.22M969.92 1912.9L987.52 1930.5M969.92 1930.5L987.52 1912.9" stroke="#ff00ff" stroke-width="3" fill="none"/>
<path d="M1091.61 1913.1V1938.1M1079.11 1925.6H1104.11M1082.81 1916.8L1100.41 1934.4M1082.81 1934.4L1100.41 1916.8" stroke="#ff00ff" stroke-width="3" fill="none"/>
<path d="M1204.5 1916.3V1941.3M1192 1928.8H1217M1195.7 1920L1213.3 1937.6M1195.7 1937.6L1213.3 1920" stroke="#ff00ff" stroke-width="3" fill="none"/>
</g>
<rect x="783.5" y="1191.5" width="402" height="191" fill="#fff" stroke="#262626" stroke-width="1"/>
<g class="d">
<line x1="792" y1="1218.5" x2="863" y2="1218.5" stroke="#ff0000" stroke-width="3"/>
<circle cx="827.5" cy="1218.5" r="11.8" fill="none" stroke="#ff0000" stroke-width="3"/>
<line x1="792" y1="1264.1" x2="863" y2="1264.1" stroke="#0000ff" stroke-width="3"/>
<polygon points="827.5,1252.6 830.08,1260.55 838.44,1260.55 831.68,1265.46 834.26,1273.4 827.5,1268.49 820.74,1273.4 823.32,1265.46 816.56,1260.55 824.92,1260.55" fill="none" stroke="#0000ff" stroke-width="3" stroke-linejoin="miter" stroke-miterlimit="10"/>
<line x1="792" y1="1309.7" x2="863" y2="1309.7" stroke="#000000" stroke-width="3"/>
<polygon points="827.5,1294.2 840.9,1317.6 814.1,1317.6" fill="none" stroke="#000000" stroke-width="3" stroke-linejoin="miter" stroke-miterlimit="10"/>
<line x1="792" y1="1355.3" x2="863" y2="1355.3" stroke="#ff00ff" stroke-width="3"/>
<path d="M827.5 1342.8V1367.8M815 1355.3H840M818.7 1346.5L836.3 1364.1M818.7 1364.1L836.3 1346.5" stroke="#ff00ff" stroke-width="3" fill="none"/>
</g><g filter="url(#bw)">
<text transform="translate(870,1232.1) scale(1,1.06)" font-size="38" fill="#000">Zhang, 2022</text>
<text transform="translate(870,1277.7) scale(1,1.06)" font-size="38" fill="#000">Pavel, 2023</text>
<text transform="translate(870,1323.3) scale(1,1.06)" font-size="38" fill="#000">Proposed method</text>
<text transform="translate(870,1368.9) scale(1,1.06)" font-size="38" fill="#000">CRB</text>
</g>
<text transform="translate(164.14,2014.9) scale(1,1.025)" font-size="42" fill="#262626">50</text>
<path transform="translate(265.35,2014.9) scale(0.02051,-0.02051)" d="M498 0L682 0L682 1463L547 1463Q545 1330 500 1280Q420 1205 300 1178L205 1158L205 1036L498 1036Z" fill="#262626"/>
<text transform="translate(288.71,2014.9) scale(1,1.025)" font-size="42" fill="#262626">00</text>
<path transform="translate(378.24,2014.9) scale(0.02051,-0.02051)" d="M498 0L682 0L682 1463L547 1463Q545 1330 500 1280Q420 1205 300 1178L205 1158L205 1036L498 1036Z" fill="#262626"/>
<text transform="translate(401.6,2014.9) scale(1,1.025)" font-size="42" fill="#262626">50</text>
<text transform="translate(491.13,2014.9) scale(1,1.025)" font-size="42" fill="#262626">200</text>
<text transform="translate(604.02,2014.9) scale(1,1.025)" font-size="42" fill="#262626">250</text>
<text transform="translate(716.91,2014.9) scale(1,1.025)" font-size="42" fill="#262626">300</text>
<text transform="translate(829.8,2014.9) scale(1,1.025)" font-size="42" fill="#262626">350</text>
<text transform="translate(942.68,2014.9) scale(1,1.025)" font-size="42" fill="#262626">400</text>
<text transform="translate(1055.57,2014.9) scale(1,1.025)" font-size="42" fill="#262626">450</text>
<text transform="translate(1168.46,2014.9) scale(1,1.025)" font-size="42" fill="#262626">500</text>
<path transform="translate(154.8,1175.5) scale(0.01562,-0.01562)" d="M498 0L682 0L682 1463L547 1463Q545 1330 500 1280Q420 1205 300 1178L205 1158L205 1036L498 1036Z" fill="#262626"/>
<path transform="translate(105.69,1196.7) scale(0.02051,-0.02051)" d="M498 0L682 0L682 1463L547 1463Q545 1330 500 1280Q420 1205 300 1178L205 1158L205 1036L498 1036Z" fill="#262626"/>
<text transform="translate(129.04,1196.7) scale(1,1.025)" font-size="42" fill="#262626">0</text>
<text transform="translate(153.8,1372.3) scale(1,1.025)" font-size="32" fill="#262626">0</text>
<path transform="translate(105.69,1393.5) scale(0.02051,-0.02051)" d="M498 0L682 0L682 1463L547 1463Q545 1330 500 1280Q420 1205 300 1178L205 1158L205 1036L498 1036Z" fill="#262626"/>
<text transform="translate(129.04,1393.5) scale(1,1.025)" font-size="42" fill="#262626">0</text>
<rect x="144.2" y="1557.81" width="7.39" height="3.1" fill="#262626"/>
<path transform="translate(153.8,1568.5) scale(0.01562,-0.01562)" d="M498 0L682 0L682 1463L547 1463Q545 1330 500 1280Q420 1205 300 1178L205 1158L205 1036L498 1036Z" fill="#262626"/>
<path transform="translate(94.03,1589.7) scale(0.02051,-0.02051)" d="M498 0L682 0L682 1463L547 1463Q545 1330 500 1280Q420 1205 300 1178L205 1158L205 1036L498 1036Z" fill="#262626"/>
<text transform="translate(117.39,1589.7) scale(1,1.025)" font-size="42" fill="#262626">0</text>
<rect x="144.2" y="1753.81" width="7.39" height="3.1" fill="#262626"/>
<text transform="translate(153.8,1764.5) scale(1,1.025)" font-size="32" fill="#262626">2</text>
<path transform="translate(94.03,1785.7) scale(0.02051,-0.02051)" d="M498 0L682 0L682 1463L547 1463Q545 1330 500 1280Q420 1205 300 1178L205 1158L205 1036L498 1036Z" fill="#262626"/>
<text transform="translate(117.39,1785.7) scale(1,1.025)" font-size="42" fill="#262626">0</text>
<rect x="144.2" y="1950.81" width="7.39" height="3.1" fill="#262626"/>
<text transform="translate(153.8,1961.5) scale(1,1.025)" font-size="32" fill="#262626">3</text>
<path transform="translate(94.03,1982.7) scale(0.02051,-0.02051)" d="M498 0L682 0L682 1463L547 1463Q545 1330 500 1280Q420 1205 300 1178L205 1158L205 1036L498 1036Z" fill="#262626"/>
<text transform="translate(117.39,1982.7) scale(1,1.025)" font-size="42" fill="#262626">0</text>
<text transform="translate(691.8,2070.8) scale(1,1.06)" font-size="46.3" fill="#262626" text-anchor="middle">Number of snapshots</text>
<text transform="translate(76,1560.7) rotate(-90) scale(1,1.06)" font-size="46" fill="#262626" text-anchor="middle">RMSE (degree)</text>
<g font-size="86" fill="#000"><text transform="translate(621.6,2180.6) scale(0.9,1)" style="font-family:'Liberation Serif',serif">(</text><text x="647.9" y="2180.6" font-weight="bold" font-size="86" style="font-family:'Liberation Serif',serif">b</text><text transform="translate(699.6,2180.6) scale(0.9,1)" style="font-family:'Liberation Serif',serif">)</text></g>
</g>
<g>
<line x1="315.5" y1="2284.5" x2="315.5" y2="3071.5" stroke="#dedede" stroke-width="1"/>
<line x1="442.5" y1="2284.5" x2="442.5" y2="3071.5" stroke="#dedede" stroke-width="1"/>
<line x1="569.5" y1="2284.5" x2="569.5" y2="3071.5" stroke="#dedede" stroke-width="1"/>
<line x1="696.5" y1="2284.5" x2="696.5" y2="3071.5" stroke="#dedede" stroke-width="1"/>
<line x1="823.5" y1="2284.5" x2="823.5" y2="3071.5" stroke="#dedede" stroke-width="1"/>
<line x1="950.5" y1="2284.5" x2="950.5" y2="3071.5" stroke="#dedede" stroke-width="1"/>
<line x1="1077.5" y1="2284.5" x2="1077.5" y2="3071.5" stroke="#dedede" stroke-width="1"/>
<line x1="188.5" y1="2394.5" x2="1204.5" y2="2394.5" stroke="#c2c2c2" stroke-width="1" stroke-dasharray="3.33 6" stroke-dashoffset="-2.17"/>
<line x1="188.5" y1="2366.5" x2="1204.5" y2="2366.5" stroke="#c2c2c2" stroke-width="1" stroke-dasharray="3.33 6" stroke-dashoffset="-2.17"/>
<line x1="188.5" y1="2347.5" x2="1204.5" y2="2347.5" stroke="#c2c2c2" stroke-width="1" stroke-dasharray="3.33 6" stroke-dashoffset="-2.17"/>
<line x1="188.5" y1="2331.5" x2="1204.5" y2="2331.5" stroke="#c2c2c2" stroke-width="1" stroke-dasharray="3.33 6" stroke-dashoffset="-2.17"/>
<line x1="188.5" y1="2319.5" x2="1204.5" y2="2319.5" stroke="#c2c2c2" stroke-width="1" stroke-dasharray="3.33 6" stroke-dashoffset="-2.17"/>
<line x1="188.5" y1="2308.5" x2="1204.5" y2="2308.5" stroke="#c2c2c2" stroke-width="1" stroke-dasharray="3.33 6" stroke-dashoffset="-2.17"/>
<line x1="188.5" y1="2299.5" x2="1204.5" y2="2299.5" stroke="#c2c2c2" stroke-width="1" stroke-dasharray="3.33 6" stroke-dashoffset="-2.17"/>
<line x1="188.5" y1="2291.5" x2="1204.5" y2="2291.5" stroke="#c2c2c2" stroke-width="1" stroke-dasharray="3.33 6" stroke-dashoffset="-2.17"/>
<line x1="188.5" y1="2551.5" x2="1204.5" y2="2551.5" stroke="#c2c2c2" stroke-width="1" stroke-dasharray="3.33 6" stroke-dashoffset="-2.17"/>
<line x1="188.5" y1="2524.5" x2="1204.5" y2="2524.5" stroke="#c2c2c2" stroke-width="1" stroke-dasharray="3.33 6" stroke-dashoffset="-2.17"/>
<line x1="188.5" y1="2504.5" x2="1204.5" y2="2504.5" stroke="#c2c2c2" stroke-width="1" stroke-dasharray="3.33 6" stroke-dashoffset="-2.17"/>
<line x1="188.5" y1="2489.5" x2="1204.5" y2="2489.5" stroke="#c2c2c2" stroke-width="1" stroke-dasharray="3.33 6" stroke-dashoffset="-2.17"/>
<line x1="188.5" y1="2476.5" x2="1204.5" y2="2476.5" stroke="#c2c2c2" stroke-width="1" stroke-dasharray="3.33 6" stroke-dashoffset="-2.17"/>
<line x1="188.5" y1="2466.5" x2="1204.5" y2="2466.5" stroke="#c2c2c2" stroke-width="1" stroke-dasharray="3.33 6" stroke-dashoffset="-2.17"/>
<line x1="188.5" y1="2457.5" x2="1204.5" y2="2457.5" stroke="#c2c2c2" stroke-width="1" stroke-dasharray="3.33 6" stroke-dashoffset="-2.17"/>
<line x1="188.5" y1="2449.5" x2="1204.5" y2="2449.5" stroke="#c2c2c2" stroke-width="1" stroke-dasharray="3.33 6" stroke-dashoffset="-2.17"/>
<line x1="188.5" y1="2709.5" x2="1204.5" y2="2709.5" stroke="#c2c2c2" stroke-width="1" stroke-dasharray="3.33 6" stroke-dashoffset="-2.17"/>
<line x1="188.5" y1="2681.5" x2="1204.5" y2="2681.5" stroke="#c2c2c2" stroke-width="1" stroke-dasharray="3.33 6" stroke-dashoffset="-2.17"/>
<line x1="188.5" y1="2661.5" x2="1204.5" y2="2661.5" stroke="#c2c2c2" stroke-width="1" stroke-dasharray="3.33 6" stroke-dashoffset="-2.17"/>
<line x1="188.5" y1="2646.5" x2="1204.5" y2="2646.5" stroke="#c2c2c2" stroke-width="1" stroke-dasharray="3.33 6" stroke-dashoffset="-2.17"/>
<line x1="188.5" y1="2634.5" x2="1204.5" y2="2634.5" stroke="#c2c2c2" stroke-width="1" stroke-dasharray="3.33 6" stroke-dashoffset="-2.17"/>
<line x1="188.5" y1="2623.5" x2="1204.5" y2="2623.5" stroke="#c2c2c2" stroke-width="1" stroke-dasharray="3.33 6" stroke-dashoffset="-2.17"/>
<line x1="188.5" y1="2614.5" x2="1204.5" y2="2614.5" stroke="#c2c2c2" stroke-width="1" stroke-dasharray="3.33 6" stroke-dashoffset="-2.17"/>
<line x1="188.5" y1="2606.5" x2="1204.5" y2="2606.5" stroke="#c2c2c2" stroke-width="1" stroke-dasharray="3.33 6" stroke-dashoffset="-2.17"/>
<line x1="188.5" y1="2866.5" x2="1204.5" y2="2866.5" stroke="#c2c2c2" stroke-width="1" stroke-dasharray="3.33 6" stroke-dashoffset="-2.17"/>
<line x1="188.5" y1="2839.5" x2="1204.5" y2="2839.5" stroke="#c2c2c2" stroke-width="1" stroke-dasharray="3.33 6" stroke-dashoffset="-2.17"/>
<line x1="188.5" y1="2819.5" x2="1204.5" y2="2819.5" stroke="#c2c2c2" stroke-width="1" stroke-dasharray="3.33 6" stroke-dashoffset="-2.17"/>
<line x1="188.5" y1="2804.5" x2="1204.5" y2="2804.5" stroke="#c2c2c2" stroke-width="1" stroke-dasharray="3.33 6" stroke-dashoffset="-2.17"/>
<line x1="188.5" y1="2791.5" x2="1204.5" y2="2791.5" stroke="#c2c2c2" stroke-width="1" stroke-dasharray="3.33 6" stroke-dashoffset="-2.17"/>
<line x1="188.5" y1="2781.5" x2="1204.5" y2="2781.5" stroke="#c2c2c2" stroke-width="1" stroke-dasharray="3.33 6" stroke-dashoffset="-2.17"/>
<line x1="188.5" y1="2771.5" x2="1204.5" y2="2771.5" stroke="#c2c2c2" stroke-width="1" stroke-dasharray="3.33 6" stroke-dashoffset="-2.17"/>
<line x1="188.5" y1="2763.5" x2="1204.5" y2="2763.5" stroke="#c2c2c2" stroke-width="1" stroke-dasharray="3.33 6" stroke-dashoffset="-2.17"/>
<line x1="188.5" y1="3024.5" x2="1204.5" y2="3024.5" stroke="#c2c2c2" stroke-width="1" stroke-dasharray="3.33 6" stroke-dashoffset="-2.17"/>
<line x1="188.5" y1="2996.5" x2="1204.5" y2="2996.5" stroke="#c2c2c2" stroke-width="1" stroke-dasharray="3.33 6" stroke-dashoffset="-2.17"/>
<line x1="188.5" y1="2976.5" x2="1204.5" y2="2976.5" stroke="#c2c2c2" stroke-width="1" stroke-dasharray="3.33 6" stroke-dashoffset="-2.17"/>
<line x1="188.5" y1="2961.5" x2="1204.5" y2="2961.5" stroke="#c2c2c2" stroke-width="1" stroke-dasharray="3.33 6" stroke-dashoffset="-2.17"/>
<line x1="188.5" y1="2949.5" x2="1204.5" y2="2949.5" stroke="#c2c2c2" stroke-width="1" stroke-dasharray="3.33 6" stroke-dashoffset="-2.17"/>
<line x1="188.5" y1="2938.5" x2="1204.5" y2="2938.5" stroke="#c2c2c2" stroke-width="1" stroke-dasharray="3.33 6" stroke-dashoffset="-2.17"/>
<line x1="188.5" y1="2929.5" x2="1204.5" y2="2929.5" stroke="#c2c2c2" stroke-width="1" stroke-dasharray="3.33 6" stroke-dashoffset="-2.17"/>
<line x1="188.5" y1="2921.5" x2="1204.5" y2="2921.5" stroke="#c2c2c2" stroke-width="1" stroke-dasharray="3.33 6" stroke-dashoffset="-2.17"/>
<line x1="188.5" y1="2441.5" x2="1204.5" y2="2441.5" stroke="#dedede" stroke-width="1"/>
<line x1="188.5" y1="2599.5" x2="1204.5" y2="2599.5" stroke="#dedede" stroke-width="1"/>
<line x1="188.5" y1="2756.5" x2="1204.5" y2="2756.5" stroke="#dedede" stroke-width="1"/>
<line x1="188.5" y1="2914.5" x2="1204.5" y2="2914.5" stroke="#dedede" stroke-width="1"/>
<path d="M188.5 3071.5v-10.5M188.5 2284.5v10.5M315.5 3071.5v-10.5M315.5 2284.5v10.5M442.5 3071.5v-10.5M442.5 2284.5v10.5M569.5 3071.5v-10.5M569.5 2284.5v10.5M696.5 3071.5v-10.5M696.5 2284.5v10.5M823.5 3071.5v-10.5M823.5 2284.5v10.5M950.5 3071.5v-10.5M950.5 2284.5v10.5M1077.5 3071.5v-10.5M1077.5 2284.5v10.5M1204.5 3071.5v-10.5M1204.5 2284.5v10.5M188.5 2284.5h11M1204.5 2284.5h-11M188.5 2441.5h11M1204.5 2441.5h-11M188.5 2599.5h11M1204.5 2599.5h-11M188.5 2756.5h11M1204.5 2756.5h-11M188.5 2914.5h11M1204.5 2914.5h-11M188.5 3071.5h11M1204.5 3071.5h-11M188.5 2394.5h6.5M1204.5 2394.5h-6.5M188.5 2366.5h6.5M1204.5 2366.5h-6.5M188.5 2347.5h6.5M1204.5 2347.5h-6.5M188.5 2331.5h6.5M1204.5 2331.5h-6.5M188.5 2319.5h6.5M1204.5 2319.5h-6.5M188.5 2308.5h6.5M1204.5 2308.5h-6.5M188.5 2299.5h6.5M1204.5 2299.5h-6.5M188.5 2291.5h6.5M1204.5 2291.5h-6.5M188.5 2551.5h6.5M1204.5 2551.5h-6.5M188.5 2524.5h6.5M1204.5 2524.5h-6.5M188.5 2504.5h6.5M1204.5 2504.5h-6.5M188.5 2489.5h6.5M1204.5 2489.5h-6.5M188.5 2476.5h6.5M1204.5 2476.5h-6.5M188.5 2466.5h6.5M1204.5 2466.5h-6.5M188.5 2457.5h6.5M1204.5 2457.5h-6.5M188.5 2449.5h6.5M1204.5 2449.5h-6.5M188.5 2709.5h6.5M1204.5 2709.5h-6.5M188.5 2681.5h6.5M1204.5 2681.5h-6.5M188.5 2661.5h6.5M1204.5 2661.5h-6.5M188.5 2646.5h6.5M1204.5 2646.5h-6.5M188.5 2634.5h6.5M1204.5 2634.5h-6.5M188.5 2623.5h6.5M1204.5 2623.5h-6.5M188.5 2614.5h6.5M1204.5 2614.5h-6.5M188.5 2606.5h6.5M1204.5 2606.5h-6.5M188.5 2866.5h6.5M1204.5 2866.5h-6.5M188.5 2839.5h6.5M1204.5 2839.5h-6.5M188.5 2819.5h6.5M1204.5 2819.5h-6.5M188.5 2804.5h6.5M1204.5 2804.5h-6.5M188.5 2791.5h6.5M1204.5 2791.5h-6.5M188.5 2781.5h6.5M1204.5 2781.5h-6.5M188.5 2771.5h6.5M1204.5 2771.5h-6.5M188.5 2763.5h6.5M1204.5 2763.5h-6.5M188.5 3024.5h6.5M1204.5 3024.5h-6.5M188.5 2996.5h6.5M1204.5 2996.5h-6.5M188.5 2976.5h6.5M1204.5 2976.5h-6.5M188.5 2961.5h6.5M1204.5 2961.5h-6.5M188.5 2949.5h6.5M1204.5 2949.5h-6.5M188.5 2938.5h6.5M1204.5 2938.5h-6.5M188.5 2929.5h6.5M1204.5 2929.5h-6.5M188.5 2921.5h6.5M1204.5 2921.5h-6.5" stroke="#262626" stroke-width="1" fill="none"/>
<rect x="188.5" y="2284.5" width="1016" height="787" fill="none" stroke="#262626" stroke-width="1"/>
<g class="d">
<polyline points="188.5,2295.1 315.5,2586.1 442.5,2703.8 569.5,2737.9 696.5,2755.4 823.5,2774.3 950.5,2788.3 1077.5,2806.4 1204.5,2840.7" fill="none" stroke="#ff0000" stroke-width="3.5" stroke-linejoin="round"/>
<circle cx="188.5" cy="2295.1" r="11.8" fill="none" stroke="#ff0000" stroke-width="3"/>
<circle cx="315.5" cy="2586.1" r="11.8" fill="none" stroke="#ff0000" stroke-width="3"/>
<circle cx="442.5" cy="2703.8" r="11.8" fill="none" stroke="#ff0000" stroke-width="3"/>
<circle cx="569.5" cy="2737.9" r="11.8" fill="none" stroke="#ff0000" stroke-width="3"/>
<circle cx="696.5" cy="2755.4" r="11.8" fill="none" stroke="#ff0000" stroke-width="3"/>
<circle cx="823.5" cy="2774.3" r="11.8" fill="none" stroke="#ff0000" stroke-width="3"/>
<circle cx="950.5" cy="2788.3" r="11.8" fill="none" stroke="#ff0000" stroke-width="3"/>
<circle cx="1077.5" cy="2806.4" r="11.8" fill="none" stroke="#ff0000" stroke-width="3"/>
<circle cx="1204.5" cy="2840.7" r="11.8" fill="none" stroke="#ff0000" stroke-width="3"/>
<polyline points="188.5,2315.3 315.5,2658.6 442.5,2717.75 569.5,2763.2 696.5,2792.9 823.5,2838.6 950.5,2853.9 1077.5,2888.75 1204.5,2901.55" fill="none" stroke="#0000ff" stroke-width="3.5" stroke-linejoin="round"/>
<polygon points="188.5,2303.8 191.08,2311.75 199.44,2311.75 192.68,2316.66 195.26,2324.6 188.5,2319.69 181.74,2324.6 184.32,2316.66 177.56,2311.75 185.92,2311.75" fill="none" stroke="#0000ff" stroke-width="3" stroke-linejoin="miter" stroke-miterlimit="10"/>
<polygon points="315.5,2647.1 318.08,2655.05 326.44,2655.05 319.68,2659.96 322.26,2667.9 315.5,2662.99 308.74,2667.9 311.32,2659.96 304.56,2655.05 312.92,2655.05" fill="none" stroke="#0000ff" stroke-width="3" stroke-linejoin="miter" stroke-miterlimit="10"/>
<polygon points="442.5,2706.25 445.08,2714.2 453.44,2714.2 446.68,2719.11 449.26,2727.05 442.5,2722.14 435.74,2727.05 438.32,2719.11 431.56,2714.2 439.92,2714.2" fill="none" stroke="#0000ff" stroke-width="3" stroke-linejoin="miter" stroke-miterlimit="10"/>
<polygon points="569.5,2751.7 572.08,2759.65 580.44,2759.65 573.68,2764.56 576.26,2772.5 569.5,2767.59 562.74,2772.5 565.32,2764.56 558.56,2759.65 566.92,2759.65" fill="none" stroke="#0000ff" stroke-width="3" stroke-linejoin="miter" stroke-miterlimit="10"/>
<polygon points="696.5,2781.4 699.08,2789.35 707.44,2789.35 700.68,2794.26 703.26,2802.2 696.5,2797.29 689.74,2802.2 692.32,2794.26 685.56,2789.35 693.92,2789.35" fill="none" stroke="#0000ff" stroke-width="3" stroke-linejoin="miter" stroke-miterlimit="10"/>
<polygon points="823.5,2827.1 826.08,2835.05 834.44,2835.05 827.68,2839.96 830.26,2847.9 823.5,2842.99 816.74,2847.9 819.32,2839.96 812.56,2835.05 820.92,2835.05" fill="none" stroke="#0000ff" stroke-width="3" stroke-linejoin="miter" stroke-miterlimit="10"/>
<polygon points="950.5,2842.4 953.08,2850.35 961.44,2850.35 954.68,2855.26 957.26,2863.2 950.5,2858.29 943.74,2863.2 946.32,2855.26 939.56,2850.35 947.92,2850.35" fill="none" stroke="#0000ff" stroke-width="3" stroke-linejoin="miter" stroke-miterlimit="10"/>
<polygon points="1077.5,2877.25 1080.08,2885.2 1088.44,2885.2 1081.68,2890.11 1084.26,2898.05 1077.5,2893.14 1070.74,2898.05 1073.32,2890.11 1066.56,2885.2 1074.92,2885.2" fill="none" stroke="#0000ff" stroke-width="3" stroke-linejoin="miter" stroke-miterlimit="10"/>
<polygon points="1204.5,2890.05 1207.08,2898 1215.44,2898 1208.68,2902.91 1211.26,2910.85 1204.5,2905.94 1197.74,2910.85 1200.32,2902.91 1193.56,2898 1201.92,2898" fill="none" stroke="#0000ff" stroke-width="3" stroke-linejoin="miter" stroke-miterlimit="10"/>
<polyline points="188.5,2361.7 315.5,2713.3 442.5,2760.4 569.5,2840.8 696.5,2854.05 823.5,2881.95 950.5,2900.4 1077.5,2922 1204.5,2948.2" fill="none" stroke="#000000" stroke-width="3.5" stroke-linejoin="round"/>
<polygon points="188.5,2347.7 201.9,2371.1 175.1,2371.1" fill="none" stroke="#000000" stroke-width="3" stroke-linejoin="miter" stroke-miterlimit="10"/>
<polygon points="315.5,2699.3 328.9,2722.7 302.1,2722.7" fill="none" stroke="#000000" stroke-width="3" stroke-linejoin="miter" stroke-miterlimit="10"/>
<polygon points="442.5,2746.4 455.9,2769.8 429.1,2769.8" fill="none" stroke="#000000" stroke-width="3" stroke-linejoin="miter" stroke-miterlimit="10"/>
<polygon points="569.5,2826.8 582.9,2850.2 556.1,2850.2" fill="none" stroke="#000000" stroke-width="3" stroke-linejoin="miter" stroke-miterlimit="10"/>
<polygon points="696.5,2840.05 709.9,2863.45 683.1,2863.45" fill="none" stroke="#000000" stroke-width="3" stroke-linejoin="miter" stroke-miterlimit="10"/>
<polygon points="823.5,2867.95 836.9,2891.35 810.1,2891.35" fill="none" stroke="#000000" stroke-width="3" stroke-linejoin="miter" stroke-miterlimit="10"/>
<polygon points="950.5,2886.4 963.9,2909.8 937.1,2909.8" fill="none" stroke="#000000" stroke-width="3" stroke-linejoin="miter" stroke-miterlimit="10"/>
<polygon points="1077.5,2908 1090.9,2931.4 1064.1,2931.4" fill="none" stroke="#000000" stroke-width="3" stroke-linejoin="miter" stroke-miterlimit="10"/>
<polygon points="1204.5,2934.2 1217.9,2957.6 1191.1,2957.6" fill="none" stroke="#000000" stroke-width="3" stroke-linejoin="miter" stroke-miterlimit="10"/>
<polyline points="188.5,2491.4 315.5,2832.8 442.5,2899.7 569.5,2949.4 696.5,2980.5 823.5,3007 950.5,3030.9 1077.5,3052.4 1204.5,3065.5" fill="none" stroke="#ff00ff" stroke-width="3.5" stroke-linejoin="round"/>
<path d="M188.5 2478.9V2503.9M176 2491.4H201M179.7 2482.6L197.3 2500.2M179.7 2500.2L197.3 2482.6" stroke="#ff00ff" stroke-width="3" fill="none"/>
<path d="M315.5 2820.3V2845.3M303 2832.8H328M306.7 2824L324.3 2841.6M306.7 2841.6L324.3 2824" stroke="#ff00ff" stroke-width="3" fill="none"/>
<path d="M442.5 2887.2V2912.2M430 2899.7H455M433.7 2890.9L451.3 2908.5M433.7 2908.5L451.3 2890.9" stroke="#ff00ff" stroke-width="3" fill="none"/>
<path d="M569.5 2936.9V2961.9M557 2949.4H582M560.7 2940.6L578.3 2958.2M560.7 2958.2L578.3 2940.6" stroke="#ff00ff" stroke-width="3" fill="none"/>
<path d="M696.5 2968V2993M684 2980.5H709M687.7 2971.7L705.3 2989.3M687.7 2989.3L705.3 2971.7" stroke="#ff00ff" stroke-width="3" fill="none"/>
<path d="M823.5 2994.5V3019.5M811 3007H836M814.7 2998.2L832.3 3015.8M814.7 3015.8L832.3 2998.2" stroke="#ff00ff" stroke-width="3" fill="none"/>
<path d="M950.5 3018.4V3043.4M938 3030.9H963M941.7 3022.1L959.3 3039.7M941.7 3039.7L959.3 3022.1" stroke="#ff00ff" stroke-width="3" fill="none"/>
<path d="M1077.5 3039.9V3064.9M1065 3052.4H1090M1068.7 3043.6L1086.3 3061.2M1068.7 3061.2L1086.3 3043.6" stroke="#ff00ff" stroke-width="3" fill="none"/>
<path d="M1204.5 3053V3078M1192 3065.5H1217M1195.7 3056.7L1213.3 3074.3M1195.7 3074.3L1213.3 3056.7" stroke="#ff00ff" stroke-width="3" fill="none"/>
</g>
<rect x="783.5" y="2303.5" width="402" height="191" fill="#fff" stroke="#262626" stroke-width="1"/>
<g class="d">
<line x1="792" y1="2330.5" x2="863" y2="2330.5" stroke="#ff0000" stroke-width="3"/>
<circle cx="827.5" cy="2330.5" r="11.8" fill="none" stroke="#ff0000" stroke-width="3"/>
<line x1="792" y1="2376.1" x2="863" y2="2376.1" stroke="#0000ff" stroke-width="3"/>
<polygon points="827.5,2364.6 830.08,2372.55 838.44,2372.55 831.68,2377.46 834.26,2385.4 827.5,2380.49 820.74,2385.4 823.32,2377.46 816.56,2372.55 824.92,2372.55" fill="none" stroke="#0000ff" stroke-width="3" stroke-linejoin="miter" stroke-miterlimit="10"/>
<line x1="792" y1="2421.7" x2="863" y2="2421.7" stroke="#000000" stroke-width="3"/>
<polygon points="827.5,2406.2 840.9,2429.6 814.1,2429.6" fill="none" stroke="#000000" stroke-width="3" stroke-linejoin="miter" stroke-miterlimit="10"/>
<line x1="792" y1="2467.3" x2="863" y2="2467.3" stroke="#ff00ff" stroke-width="3"/>
<path d="M827.5 2454.8V2479.8M815 2467.3H840M818.7 2458.5L836.3 2476.1M818.7 2476.1L836.3 2458.5" stroke="#ff00ff" stroke-width="3" fill="none"/>
</g><g filter="url(#bw)">
<text transform="translate(870,2344.1) scale(1,1.06)" font-size="38" fill="#000">Zhang, 2022</text>
<text transform="translate(870,2389.7) scale(1,1.06)" font-size="38" fill="#000">Pavel, 2023</text>
<text transform="translate(870,2435.3) scale(1,1.06)" font-size="38" fill="#000">Proposed method</text>
<text transform="translate(870,2480.9) scale(1,1.06)" font-size="38" fill="#000">CRB</text>
</g>
<path transform="translate(164.14,3125.7) scale(0.02051,-0.02051)" d="M498 0L682 0L682 1463L547 1463Q545 1330 500 1280Q420 1205 300 1178L205 1158L205 1036L498 1036Z" fill="#262626"/>
<text transform="translate(187.5,3125.7) scale(1,1.025)" font-size="42" fill="#262626">0</text>
<path transform="translate(291.14,3125.7) scale(0.02051,-0.02051)" d="M498 0L682 0L682 1463L547 1463Q545 1330 500 1280Q420 1205 300 1178L205 1158L205 1036L498 1036Z" fill="#262626"/>
<text transform="translate(314.5,3125.7) scale(1,1.025)" font-size="42" fill="#262626">5</text>
<text transform="translate(418.14,3125.7) scale(1,1.025)" font-size="42" fill="#262626">20</text>
<text transform="translate(545.14,3125.7) scale(1,1.025)" font-size="42" fill="#262626">25</text>
<text transform="translate(672.14,3125.7) scale(1,1.025)" font-size="42" fill="#262626">30</text>
<text transform="translate(799.14,3125.7) scale(1,1.025)" font-size="42" fill="#262626">35</text>
<text transform="translate(926.14,3125.7) scale(1,1.025)" font-size="42" fill="#262626">40</text>
<text transform="translate(1053.14,3125.7) scale(1,1.025)" font-size="42" fill="#262626">45</text>
<text transform="translate(1180.14,3125.7) scale(1,1.025)" font-size="42" fill="#262626">50</text>
<rect x="144.2" y="2276.61" width="7.39" height="3.1" fill="#262626"/>
<path transform="translate(153.8,2287.3) scale(0.01562,-0.01562)" d="M498 0L682 0L682 1463L547 1463Q545 1330 500 1280Q420 1205 300 1178L205 1158L205 1036L498 1036Z" fill="#262626"/>
<path transform="translate(94.03,2308.5) scale(0.02051,-0.02051)" d="M498 0L682 0L682 1463L547 1463Q545 1330 500 1280Q420 1205 300 1178L205 1158L205 1036L498 1036Z" fill="#262626"/>
<text transform="translate(117.39,2308.5) scale(1,1.025)" font-size="42" fill="#262626">0</text>
<rect x="144.2" y="2432.81" width="7.39" height="3.1" fill="#262626"/>
<text transform="translate(153.8,2443.5) scale(1,1.025)" font-size="32" fill="#262626">2</text>
<path transform="translate(94.03,2464.7) scale(0.02051,-0.02051)" d="M498 0L682 0L682 1463L547 1463Q545 1330 500 1280Q420 1205 300 1178L205 1158L205 1036L498 1036Z" fill="#262626"/>
<text transform="translate(117.39,2464.7) scale(1,1.025)" font-size="42" fill="#262626">0</text>
<rect x="144.2" y="2589.61" width="7.39" height="3.1" fill="#262626"/>
<text transform="translate(153.8,2600.3) scale(1,1.025)" font-size="32" fill="#262626">3</text>
<path transform="translate(94.03,2621.5) scale(0.02051,-0.02051)" d="M498 0L682 0L682 1463L547 1463Q545 1330 500 1280Q420 1205 300 1178L205 1158L205 1036L498 1036Z" fill="#262626"/>
<text transform="translate(117.39,2621.5) scale(1,1.025)" font-size="42" fill="#262626">0</text>
<rect x="144.2" y="2746.61" width="7.39" height="3.1" fill="#262626"/>
<text transform="translate(153.8,2757.3) scale(1,1.025)" font-size="32" fill="#262626">4</text>
<path transform="translate(94.03,2778.5) scale(0.02051,-0.02051)" d="M498 0L682 0L682 1463L547 1463Q545 1330 500 1280Q420 1205 300 1178L205 1158L205 1036L498 1036Z" fill="#262626"/>
<text transform="translate(117.39,2778.5) scale(1,1.025)" font-size="42" fill="#262626">0</text>
<rect x="144.2" y="2905.81" width="7.39" height="3.1" fill="#262626"/>
<text transform="translate(153.8,2916.5) scale(1,1.025)" font-size="32" fill="#262626">5</text>
<path transform="translate(94.03,2937.7) scale(0.02051,-0.02051)" d="M498 0L682 0L682 1463L547 1463Q545 1330 500 1280Q420 1205 300 1178L205 1158L205 1036L498 1036Z" fill="#262626"/>
<text transform="translate(117.39,2937.7) scale(1,1.025)" font-size="42" fill="#262626">0</text>
<rect x="144.2" y="3062.81" width="7.39" height="3.1" fill="#262626"/>
<text transform="translate(153.8,3073.5) scale(1,1.025)" font-size="32" fill="#262626">6</text>
<path transform="translate(94.03,3094.7) scale(0.02051,-0.02051)" d="M498 0L682 0L682 1463L547 1463Q545 1330 500 1280Q420 1205 300 1178L205 1158L205 1036L498 1036Z" fill="#262626"/>
<text transform="translate(117.39,3094.7) scale(1,1.025)" font-size="42" fill="#262626">0</text>
<text transform="translate(692.35,3182) scale(1,1.06)" font-size="46.3" fill="#262626" text-anchor="middle">Compressed dimension</text>
<text transform="translate(76,2672.7) rotate(-90) scale(1,1.06)" font-size="46" fill="#262626" text-anchor="middle">RMSE (degree)</text>
<g font-size="86" fill="#000"><text transform="translate(628.6,3291.6) scale(0.9,1)" style="font-family:'Liberation Serif',serif">(</text><text x="654.93" y="3291.6" font-weight="bold" font-size="84" style="font-family:'Liberation Serif',serif">c</text><text transform="translate(692.9,3291.6) scale(0.9,1)" style="font-family:'Liberation Serif',serif">)</text></g>
</g>
</svg></body></html>
